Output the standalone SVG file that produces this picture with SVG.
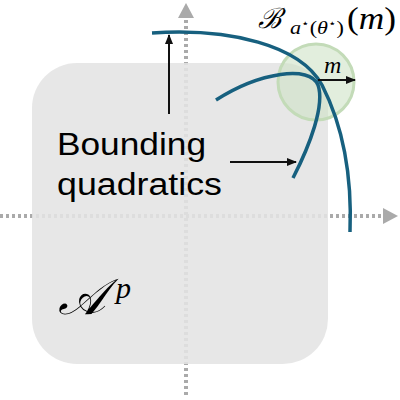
<svg xmlns="http://www.w3.org/2000/svg" width="400" height="400" viewBox="0 0 400 400">
<defs>
<style>
.axis{stroke:#aaaaaa;stroke-width:4;stroke-dasharray:3 3;fill:none}
.quad{stroke:#17607f;stroke-width:3.5;fill:none;stroke-linecap:butt}
.lbl{font-family:"Liberation Sans",Arial,sans-serif;font-size:31px;fill:#000}
.math{font-family:"Liberation Serif","DejaVu Serif",serif;font-style:italic;fill:#000}
.up{font-style:normal}
.arr{stroke:#111;stroke-width:2;fill:none}
</style>
<marker id="ah" markerWidth="10" markerHeight="8" refX="9" refY="4" orient="auto" markerUnits="userSpaceOnUse">
<path d="M0,0 L10,4 L0,8 Z" fill="#111"/>
</marker>
</defs>
<g id="axes">
<line class="axis" x1="186" y1="395" x2="186" y2="18"/>
<path d="M178,18 L186,3 L194,18 Z" fill="#aaaaaa"/>
<line class="axis" x1="0" y1="216" x2="383" y2="216"/>
<path d="M383,208 L398,216 L383,224 Z" fill="#aaaaaa"/>
</g>
<g id="region">
<rect x="32" y="63" width="296" height="301" rx="45" ry="45" fill="#e4e4e4" fill-opacity="0.88"/>
<text class="math" x="58" y="314" font-size="50">𝒜</text>
<text class="math" x="116" y="298" font-size="30">p</text>
</g>
<g id="ball">
<circle cx="316" cy="82" r="38" fill="#cfe3c6" fill-opacity="0.6" stroke="#c3dbb8" stroke-width="3"/>
</g>
<g id="connectors">
<path class="quad" d="M152,33 C230,28 300,45 322,85 C345,130 352,180 350,232"/>
<path class="quad" d="M216,100 C260,72 310,65 318,85 C325,105 310,145 293,178"/>
<line class="arr" x1="318" y1="80" x2="355" y2="80" marker-end="url(#ah)"/>
<line class="arr" x1="169" y1="114" x2="169" y2="35" marker-end="url(#ah)"/>
<line class="arr" x1="230" y1="162" x2="296" y2="162" marker-end="url(#ah)"/>
</g>
<g id="labels">
<text class="lbl" x="57" y="155" textLength="149" lengthAdjust="spacingAndGlyphs">Bounding</text>
<text class="lbl" x="57" y="195" textLength="165" lengthAdjust="spacingAndGlyphs">quadratics</text>
<text class="math" x="324" y="73" font-size="24">m</text>
<text class="math" x="258" y="28" font-size="28">ℬ</text>
<text class="math" x="290" y="34" font-size="18" textLength="54" lengthAdjust="spacingAndGlyphs">a<tspan class="up" font-size="11" dy="-7">⋆</tspan><tspan class="up" dy="7">(</tspan>θ<tspan class="up" font-size="11" dy="-7">⋆</tspan><tspan class="up" dy="7">)</tspan></text>
<text class="math" x="347" y="29" font-size="31" textLength="49" lengthAdjust="spacingAndGlyphs"><tspan class="up">(</tspan>m<tspan class="up">)</tspan></text>
</g>
</svg>
